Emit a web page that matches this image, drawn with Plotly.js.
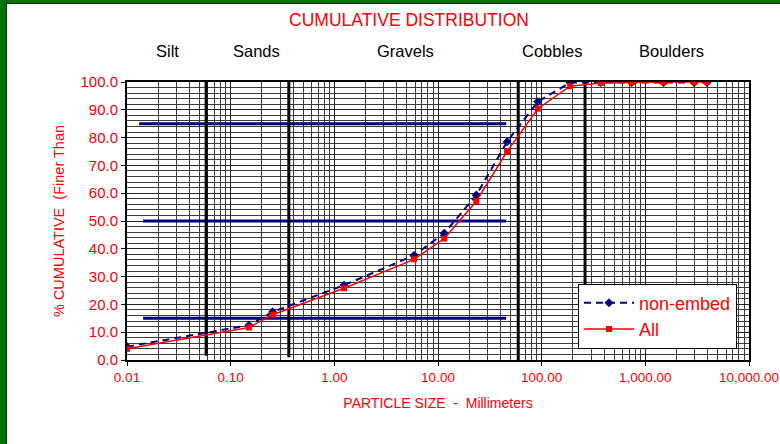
<!DOCTYPE html>
<html>
<head>
<meta charset="utf-8">
<script src="https://cdn.plot.ly/plotly-3.0.1.min.js"></script>
<style>
  html, body { margin: 0; padding: 0; background: #ffffff; }
  #wrap { position: relative; width: 780px; height: 444px; overflow: hidden; background: #ffffff; }
  #chart { position: absolute; left: 0; top: 0; width: 780px; height: 444px; }
  #bl { position: absolute; left: 0; top: 0; width: 6px; height: 444px; background: #007400; border-right: 1px solid #222; }
  #bt { position: absolute; left: 0; top: 0; width: 780px; height: 3px; background: #007400; border-bottom: 1px solid #222; }
</style>
</head>
<body>
<div id="wrap">
  <div id="chart"></div>
  <div id="bt"></div>
  <div id="bl"></div>
</div>
<script>
// ---- data ----
const particleSizeMm = [0.01, 0.15, 0.254, 1.24, 5.86, 11.5, 23.4, 46.4, 91.8, 188, 371, 738, 1500, 2965, 3930];
const nonEmbedPct    = [4.8, 12.5, 17.3, 26.9, 37.6, 45.6, 59.3, 78.5, 92.9, 99.8, 99.8, 99.8, 99.8, 99.8, 99.8];
const allPct         = [4.0, 11.7, 16.3, 25.8, 36.2, 43.7, 57.1, 75.0, 90.4, 98.5, 99.6, 99.9, 100, 100, 100];

const seriesNames = ["non-embed", "All"];

// class boundary lines (mm) and their lower ends (%)
const boundaryMm     = [0.058, 0.364, 59.4, 262];
const boundaryBottom = [1.5, 1.0, 0, 25];
const boundaryTop    = [101.2, 101.2, 101.2, 101.2];

// D-percentile reference lines
const refLevels = [85, 50, 15];
const refStart  = [0.0131, 0.0143, 0.0143];
const refEnd    = [45.5, 45.5, 45.5];

const zoneNames = ["Silt", "Sands", "Gravels", "Cobbles", "Boulders"];

const xTickVals = [0.01, 0.1, 1, 10, 100, 1000, 10000];
const xTickText = ["0.01", "0.10", "1.00", "10.00", "100.00", "1,000.00", "10,000.00"];

// ---- build ----
const minorVals = [];
for (let d = 0; d < xTickVals.length - 1; d++) {
  for (let m = 2; m <= 9; m++) minorVals.push(xTickVals[d] * m);
}

const traces = [];
refLevels.forEach((lv, i) => {
  traces.push({
    x: [refStart[i], refEnd[i]], y: [lv, lv], mode: 'lines', type: 'scatter',
    line: { color: '#000080', width: 3 }, showlegend: false, hoverinfo: 'skip'
  });
});
boundaryMm.forEach((b, i) => {
  traces.push({
    x: [b, b], y: [boundaryBottom[i], boundaryTop[i]], mode: 'lines', type: 'scatter',
    line: { color: '#000000', width: 3 }, showlegend: false, hoverinfo: 'skip', cliponaxis: false
  });
});
traces.push({
  x: particleSizeMm, y: nonEmbedPct, name: seriesNames[0], type: 'scatter', mode: 'lines+markers',
  line: { color: '#000080', width: 2, dash: '7px,5px' },
  marker: { symbol: 'diamond', color: '#000080', size: 7 }
});
traces.push({
  x: particleSizeMm, y: allPct, name: seriesNames[1], type: 'scatter', mode: 'lines+markers',
  line: { color: '#ff0000', width: 1.5 },
  marker: { symbol: 'square', color: '#ff0000', size: 6 }
});

const FONT = 'Liberation Sans, Arial, sans-serif';
const zoneX = [167, 256, 405, 552, 671];
const plotL = 127, plotW = 622;

const annotations = zoneNames.map((z, i) => ({
  text: z, xref: 'paper', yref: 'paper',
  x: (zoneX[i] - plotL) / plotW, y: 1 + (82 - 51) / 278,
  xanchor: 'center', yanchor: 'middle', showarrow: false,
  font: { family: FONT, size: 16.5, color: '#000000' }
}));

const layout = {
  width: 780, height: 444,
  margin: { l: 127, r: 31, t: 82, b: 84 },
  paper_bgcolor: 'rgba(0,0,0,0)', plot_bgcolor: '#ffffff',
  font: { family: FONT, color: '#ff0000' },
  title: {
    text: 'CUMULATIVE DISTRIBUTION', x: 409 / 780, xanchor: 'center',
    y: 1 - 20 / 444, yanchor: 'middle', yref: 'container',
    font: { family: FONT, size: 17.5, color: '#ff0000' }
  },
  xaxis: {
    type: 'log', range: [-2, 4],
    tickmode: 'array', tickvals: xTickVals, ticktext: xTickText,
    tickfont: { family: FONT, size: 13.5, color: '#ff0000' },
    ticks: 'outside', ticklen: 4, tickcolor: '#000', tickwidth: 1,
    showgrid: true, gridcolor: '#222', gridwidth: 1,
    minor: { tickmode: 'array', tickvals: minorVals, showgrid: true, gridcolor: '#3c3c3c', gridwidth: 1, ticks: '' },
    showline: true, linecolor: '#000', linewidth: 2, mirror: true,
    zeroline: false,
    title: { text: 'PARTICLE SIZE  -  Millimeters', font: { family: FONT, size: 14, color: '#ff0000' }, standoff: 14 }
  },
  yaxis: {
    range: [0, 100], dtick: 10, tick0: 0, tickformat: '.1f',
    tickfont: { family: FONT, size: 15, color: '#ff0000' },
    ticks: 'outside', ticklen: 4, tickcolor: '#000', tickwidth: 1,
    showgrid: true, gridcolor: '#222', gridwidth: 1,
    minor: { dtick: 2, showgrid: true, gridcolor: '#3c3c3c', gridwidth: 1, ticks: '' },
    showline: true, linecolor: '#000', linewidth: 2, mirror: true,
    zeroline: false,
    title: { text: '% CUMULATIVE  (Finer Than', font: { family: FONT, size: 14.5, color: '#ff0000' }, standoff: 12 }
  },
  showlegend: true,
  legend: {
    x: (578 - plotL) / plotW, y: (360.5 - 284) / 278, xanchor: 'left', yanchor: 'top',
    bgcolor: '#ffffff', bordercolor: '#000000', borderwidth: 1,
    font: { family: FONT, size: 18, color: '#ff0000' },
    itemwidth: 50, traceorder: 'normal'
  },
  annotations: annotations
};

Plotly.newPlot('chart', traces, layout, { displayModeBar: false, staticPlot: true });
</script>
</body>
</html>
